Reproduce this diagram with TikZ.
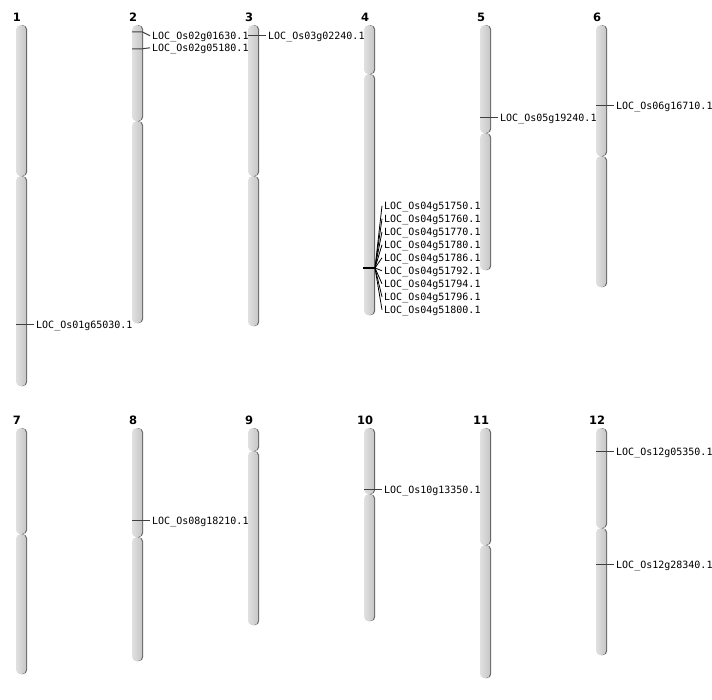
\documentclass[tikz,border=0pt]{standalone}
\usepackage{fontspec}
\setmainfont{DejaVu Sans}
\setmonofont{DejaVu Sans Mono}
\usetikzlibrary{shadows}
\tikzset{
  arm/.style={rounded corners=4.5pt, minimum width=10pt, inner sep=0pt, draw=none,
    left color=black!12, right color=black!22,
    drop shadow={shadow xshift=1.2pt, shadow yshift=0pt, fill=black!60, opacity=1}},
  num/.style={font=\fontsize{11.5}{11.5}\selectfont\bfseries, inner sep=0pt},
  lab/.style={font=\fontsize{10}{10}\selectfont\ttfamily, anchor=west, inner xsep=2pt, inner ysep=0pt,
    text height=7.3pt, text depth=0pt},
  mk/.style={draw=black!75, line width=1pt},
  mkthick/.style={draw=black, line width=2.6pt},
}
\newcommand\chrom[6]{%
  \node[arm, anchor=north, minimum height={(#4-#3)*1pt}] (#1a) at (#2,#3) {};
  \node[arm, anchor=north, minimum height={(#5-#4)*1pt}] (#1b) at (#2,#4) {};
  \node[num] (#1n) at (#2-4,#3-8) {#6};
}
\newcommand\marker[5]{% name, chr left x, marker y, label y, text
  \coordinate (#1m) at (#2,#3+0.8);
  \node[lab] (#1l) at (#2+18,#4+0.8) {#5};
  \draw[mk] (#1m) -- ++(10,0) -- (#1l.west);
}
\begin{document}
\begin{tikzpicture}[x=1pt,y=-1pt]
\useasboundingbox[fill=white] (0,0) rectangle (712,700);
% row 1
\chrom{c1}{21}{25}{176}{386}{1}
\chrom{c2}{137}{25}{121}{323}{2}
\chrom{c3}{253}{25}{176}{326}{3}
\chrom{c4}{369}{25}{74}{315}{4}
\chrom{c5}{485}{25}{133}{270}{5}
\chrom{c6}{601}{25}{156}{287}{6}
% row 2
\chrom{c7}{21}{428}{534}{674}{7}
\chrom{c8}{137}{428}{537}{661}{8}
\chrom{c9}{253}{428}{451}{625}{9}
\chrom{c10}{369}{428}{494}{621}{10}
\chrom{c11}{485}{428}{545}{678}{11}
\chrom{c12}{601}{428}{528}{655}{12}
% markers
\marker{a}{16}{324}{324}{LOC\_Os01g65030.1}
\marker{b}{132}{31}{35}{LOC\_Os02g01630.1}
\marker{c}{132}{48}{47}{LOC\_Os02g05180.1}
\marker{d}{248}{35}{35}{LOC\_Os03g02240.1}
\marker{e}{480}{117}{117}{LOC\_Os05g19240.1}
\marker{f}{596}{105}{105}{LOC\_Os06g16710.1}
\marker{g}{132}{520}{520}{LOC\_Os08g18210.1}
\marker{h}{364}{489}{489}{LOC\_Os10g13350.1}
\marker{i}{596}{451}{451}{LOC\_Os12g05350.1}
\marker{j}{596}{564}{564}{LOC\_Os12g28340.1}
% chromosome 4 cluster
\coordinate (k0) at (363,268);
\coordinate (k1) at (375,268);
\draw[mkthick] (k0) -- (k1);
\foreach \n/\t [count=\i from 0] in {k1a/51750,k1b/51760,k1c/51770,k1d/51780,k1e/51786,k1f/51792,k1g/51794,k1h/51796,k1i/51800}{
  \node[lab] (\n) at (382,205.8+13*\i) {LOC\_Os04g\t.1};
  \draw[draw=black, line width=0.8pt] (k1) -- (\n.west);
}
\end{tikzpicture}
\end{document}
